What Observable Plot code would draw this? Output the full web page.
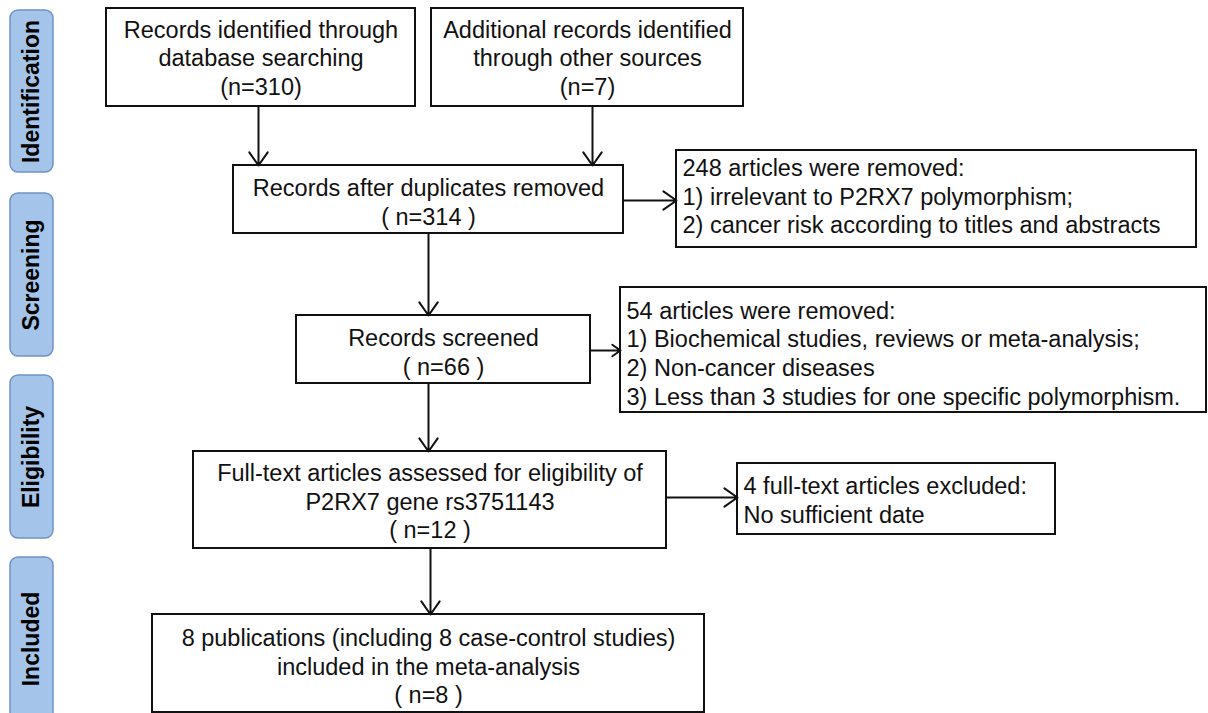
<!DOCTYPE html>
<html>
<head>
<meta charset="utf-8">
<script src="https://cdn.jsdelivr.net/npm/d3@7"></script>
<script src="https://cdn.jsdelivr.net/npm/@observablehq/plot@0.6"></script>
<style>
  html, body { margin: 0; padding: 0; background: #ffffff; }
  #chart svg { display: block; }
</style>
</head>
<body>
<div id="chart"></div>
<script>
// ---- content ----
const stages = ["Identification", "Screening", "Eligibility", "Included"];

const boxTexts = [
  ["Records identified through", "database searching", "(n=310)"],
  ["Additional records identified", "through other sources", "(n=7)"],
  ["Records after duplicates removed", "( n=314 )"],
  ["248 articles were removed:", "1) irrelevant to P2RX7 polymorphism;", "2) cancer risk according to titles and abstracts"],
  ["Records screened", "( n=66 )"],
  ["54 articles were removed:", "1) Biochemical studies, reviews or meta-analysis;", "2) Non-cancer diseases", "3) Less than 3 studies for one specific polymorphism."],
  ["Full-text articles assessed for eligibility of", "P2RX7 gene rs3751143", "( n=12 )"],
  ["4 full-text articles excluded:", "No sufficient date"],
  ["8 publications (including 8 case-control studies)", "included in the meta-analysis", "( n=8 )"]
];

// flows between boxes (source index, target index, direction)
const flows = [
  [0, 2, "down"], [1, 2, "down"], [2, 3, "right"], [2, 4, "down"],
  [4, 5, "right"], [4, 6, "down"], [6, 7, "right"], [6, 8, "down"]
];

// ---- layout (pixel space) ----
const boxLayout = [
  {x1: 106, x2: 415,  y1: 8,   y2: 106, ty: 56.5, align: "middle"},
  {x1: 431, x2: 743,  y1: 8,   y2: 106, ty: 56.5, align: "middle"},
  {x1: 233, x2: 623,  y1: 165, y2: 233, ty: 201,  align: "middle"},
  {x1: 676, x2: 1196, y1: 150, y2: 247, ty: 195,  align: "start"},
  {x1: 296, x2: 590,  y1: 315, y2: 383, ty: 351,  align: "middle"},
  {x1: 620, x2: 1206, y1: 287, y2: 412, ty: 352,  align: "start"},
  {x1: 193, x2: 666,  y1: 451, y2: 548, ty: 500,  align: "middle"},
  {x1: 737, x2: 1055, y1: 463, y2: 534, ty: 498.5, align: "start"},
  {x1: 152, x2: 704,  y1: 614, y2: 712, ty: 665,  align: "middle"}
];
// position of each flow line (x for vertical, y for horizontal)
const flowPos = [258, 592, 200, 428, 350, 428, 497, 430];

const stageLayout = [
  {y1: 10, y2: 172}, {y1: 193, y2: 356}, {y1: 375, y2: 538}, {y1: 557, y2: 720}
];

// ---- build tables ----
const boxes = boxTexts.map((lines, i) => ({...boxLayout[i], text: lines.join("\n")}));
const stageData = stages.map((s, i) => ({name: s, ...stageLayout[i], x1: 10, x2: 53}));
const arrows = flows.map(([s, t, dir], i) => {
  const a = boxLayout[s], b = boxLayout[t];
  return dir === "down"
    ? {x1: flowPos[i], x2: flowPos[i], y1: a.y2, y2: b.y1}
    : {x1: a.x2, x2: b.x1, y1: flowPos[i], y2: flowPos[i]};
});

const font = "'Liberation Sans', Arial, Helvetica, sans-serif";

const chart = Plot.plot({
  width: 1208,
  height: 713,
  margin: 0,
  x: {domain: [0, 1208], range: [0, 1208], axis: null},
  y: {domain: [0, 713], range: [0, 713], axis: null},
  style: {fontFamily: font, background: "#ffffff"},
  marks: [
    Plot.rect(stageData, {x1: "x1", x2: "x2", y1: "y1", y2: "y2", rx: 8, fill: "#a5c4ea", stroke: "#6f93c6", strokeWidth: 1.5}),
    Plot.text(stageData, {x: d => (d.x1 + d.x2) / 2, y: d => (d.y1 + d.y2) / 2, text: "name", rotate: -90, fontSize: 23, fontWeight: "bold", fill: "#000"}),
    Plot.rect(boxes, {x1: "x1", x2: "x2", y1: "y1", y2: "y2", fill: "white", stroke: "#111", strokeWidth: 2}),
    Plot.text(boxes.filter(d => d.align === "middle"), {x: d => (d.x1 + d.x2) / 2, y: "ty", text: "text", fontSize: 23.5, lineHeight: 1.21, fill: "#111"}),
    Plot.text(boxes.filter(d => d.align === "start"), {x: d => d.x1 + 6, y: "ty", text: "text", textAnchor: "start", fontSize: 23.5, lineHeight: 1.22, fill: "#111"}),
    Plot.arrow(arrows, {x1: "x1", y1: "y1", x2: "x2", y2: "y2", stroke: "#111", strokeWidth: 2, headLength: 12, headAngle: 70, bend: 0})
  ]
});
document.getElementById("chart").appendChild(chart);
</script>
</body>
</html>
